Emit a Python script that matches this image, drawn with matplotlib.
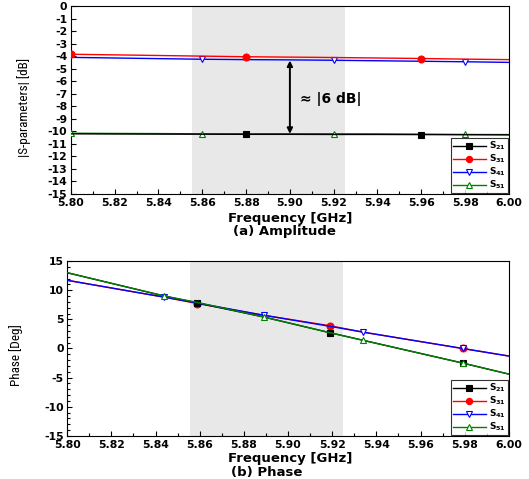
import matplotlib
matplotlib.use("Agg")
import matplotlib.pyplot as plt
from matplotlib.ticker import MultipleLocator
from matplotlib import font_manager

plt.rcParams['font.family'] = ['DejaVu Sans']
plt.rcParams['mathtext.fontset'] = 'dejavusans'

names = {f.name for f in font_manager.fontManager.ttflist}
narrow = 'Liberation Sans'
for cand in ['Liberation Sans Narrow', 'Roboto Condensed', 'Open Sans Condensed']:
    if cand in names:
        narrow = cand
        break

# ---- Amplitude data ----
amp_f = [5.80, 5.82, 5.84, 5.86, 5.88, 5.90, 5.92, 5.94, 5.96, 5.98, 6.00]
s21_amp = [-10.20, -10.21, -10.22, -10.23, -10.24, -10.24, -10.25, -10.25, -10.26, -10.27, -10.28]
s31_amp = [-3.85, -3.90, -3.95, -4.00, -4.05, -4.08, -4.11, -4.15, -4.19, -4.24, -4.28]
s41_amp = [-4.10, -4.15, -4.20, -4.25, -4.28, -4.30, -4.33, -4.37, -4.41, -4.45, -4.50]
s51_amp = [-10.15, -10.17, -10.18, -10.20, -10.20, -10.20, -10.20, -10.21, -10.23, -10.25, -10.26]
s21_amp_mk = [5.88, 5.96]
s31_amp_mk = [5.80, 5.88, 5.96]
s41_amp_mk = [5.86, 5.92, 5.98]
s51_amp_mk = [5.80, 5.86, 5.92, 5.98]

# ---- Phase data ----
ph_f = [5.80, 5.844, 5.859, 5.889, 5.919, 5.934, 5.979, 6.00]
s21_ph = [13.0, 9.0, 7.8, 5.4, 2.7, 1.4, -2.5, -4.4]
s31_ph = [11.7, 8.8, 7.7, 5.7, 3.9, 2.8, 0.0, -1.3]
s41_ph = [11.7, 8.8, 7.8, 5.7, 3.8, 2.8, 0.0, -1.3]
s51_ph = [13.0, 9.0, 7.9, 5.4, 2.7, 1.4, -2.5, -4.4]
s21_ph_mk = [5.859, 5.919, 5.979]
s31_ph_mk = [5.859, 5.919, 5.979]
s41_ph_mk = [5.844, 5.889, 5.934, 5.979]
s51_ph_mk = [5.844, 5.889, 5.934, 5.979]

freq_ticks = [5.80, 5.82, 5.84, 5.86, 5.88, 5.90, 5.92, 5.94, 5.96, 5.98, 6.00]
labels = [r'$\mathbf{S_{21}}$', r'$\mathbf{S_{31}}$', r'$\mathbf{S_{41}}$', r'$\mathbf{S_{51}}$']
colors = ['black', 'red', 'blue', 'green']
markers = ['s', 'o', 'v', '^']
filled = [True, True, False, False]

fig = plt.figure(figsize=(5.29, 4.79), dpi=100)
ax1 = fig.add_axes([0.134, 0.595, 0.828, 0.3925])
ax2 = fig.add_axes([0.127, 0.09, 0.835, 0.365])

def mk_idx(f, mk):
    return [min(range(len(f)), key=lambda i: abs(f[i] - m)) for m in mk]

def draw(ax, f, series, mks, order):
    handles = [None] * 4
    for k in order:
        y = series[k]
        idx = mk_idx(f, mks[k])
        fc = colors[k] if filled[k] else 'white'
        h, = ax.plot(f, y, color=colors[k], lw=1.0, marker=markers[k], markevery=idx,
                     ms=5, mfc=fc, mec=colors[k], mew=0.8, label=labels[k],
                     zorder=3 + order.index(k))
        handles[k] = h
    return handles

h1 = draw(ax1, amp_f, [s21_amp, s31_amp, s41_amp, s51_amp],
          [s21_amp_mk, s31_amp_mk, s41_amp_mk, s51_amp_mk], [3, 0, 2, 1])
h2 = draw(ax2, ph_f, [s21_ph, s31_ph, s41_ph, s51_ph],
          [s21_ph_mk, s31_ph_mk, s41_ph_mk, s51_ph_mk], [1, 0, 2, 3])

for ax, hs in ((ax1, h1), (ax2, h2)):
    ax.axvspan(5.8555, 5.925, color='#e8e8e8', zorder=0, lw=0)
    ax.set_xlim(5.80, 6.00)
    ax.set_xticks(freq_ticks)
    ax.set_xticklabels(['%.2f' % v for v in freq_ticks], fontweight='bold')
    ax.xaxis.set_minor_locator(MultipleLocator(0.01))
    ax.tick_params(which='both', direction='in', labelsize=7.8, width=0.8)
    ax.tick_params(which='major', length=3.5)
    ax.tick_params(which='minor', length=2)
    ax.tick_params(axis='x', pad=3)
    ax.tick_params(axis='y', pad=2.5)
    for s in ax.spines.values():
        s.set_linewidth(0.8)
    leg = ax.legend(handles=hs, loc='lower right', fontsize=6.5, frameon=True, fancybox=False,
                    edgecolor='black', handlelength=3.6, borderpad=0.2, labelspacing=0.05,
                    handletextpad=0.4, borderaxespad=0.1, markerscale=0.9)
    leg.get_frame().set_linewidth(0.8)
    leg.set_zorder(10)

ax1.set_ylim(-15, 0)
ax1.set_yticks(range(-15, 1))
ax1.set_yticklabels([str(v) for v in range(-15, 1)], fontweight='bold')

ax2.set_ylim(-15, 15)
ax2.set_yticks(range(-15, 16, 5))
ax2.set_yticklabels([str(v) for v in range(-15, 16, 5)], fontweight='bold')
ax2.yaxis.set_minor_locator(MultipleLocator(1))

fig.text(24 / 529, 1 - 107 / 479, '|S-parameters| [dB]', family=narrow, fontsize=9.5,
         rotation=90, ha='center', va='center')
fig.text(16 / 529, 1 - 355 / 479, 'Phase [Deg]', family=narrow, fontsize=9.5,
         rotation=90, ha='center', va='center')

ax1.annotate('', xy=(5.90, -4.35), xytext=(5.90, -10.2),
             arrowprops=dict(arrowstyle='<|-|>', color='black', lw=1.4,
                             mutation_scale=8, shrinkA=0, shrinkB=0), zorder=6)
ax1.text(5.9045, -7.45, '≈ |6 dB|', fontsize=10, fontweight='bold', va='center', ha='left')

fig.text(0.548, 0.543, 'Frequency [GHz]', ha='center', va='center', fontsize=9.5, fontweight='bold')
fig.text(0.537, 0.516, '(a) Amplitude', ha='center', va='center', fontsize=9.5, fontweight='bold')
fig.text(0.548, 0.042, 'Frequency [GHz]', ha='center', va='center', fontsize=9.5, fontweight='bold')
fig.text(0.505, 0.0146, '(b) Phase', ha='center', va='center', fontsize=9.5, fontweight='bold')

fig.savefig('out.png', dpi=100)
